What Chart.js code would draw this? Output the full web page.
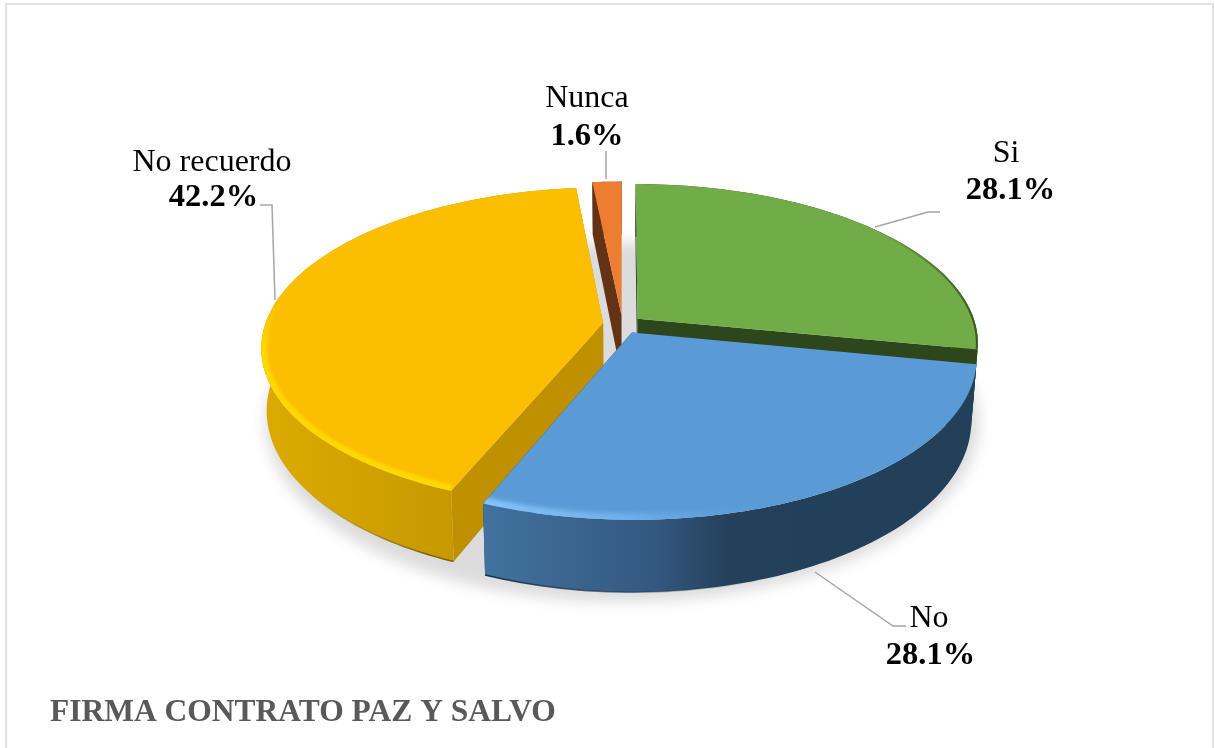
<!DOCTYPE html>
<html lang="es">
<head>
<meta charset="utf-8">
<title>Firma contrato paz y salvo</title>
<script src="https://cdn.jsdelivr.net/npm/chart.js@4"></script>
<style>html,body{margin:0;padding:0;background:#fff}canvas{display:block}</style>
</head>
<body>
<canvas id="c" width="1215" height="748"></canvas>
<script>
const categories = ['Si', 'No', 'No recuerdo', 'Nunca'];
const percentages = [28.1, 28.1, 42.2, 1.6];
const chartTitle = 'FIRMA CONTRATO PAZ Y SALVO';

const topColors = ['#70AD47', '#5B9BD5', '#FBBE00', '#ED7D31'];
const faceColors = ['#2E461C', '#24405A', '#BF9000', '#643215'];
const wallStops = [
  [[0, '#2E461C'], [1, '#2E461C']],
  [[0, '#42729F'], [0.35, '#33587F'], [0.5, '#24405A'], [1, '#22405A']],
  [[0, '#DCAB00'], [0.5, '#CB9C00'], [1, '#BA8D00']],
  [[0, '#643215'], [1, '#643215']]
];
const labelSpots = [
  {x: 1006, y: 162, bx: 1010.5, by: 199},
  {x: 929, y: 627, bx: 930.5, by: 664},
  {x: 212, y: 171, bx: 213.5, by: 206},
  {x: 587, y: 107, bx: 587, by: 145}
];
const leaderPaths = [
  [[875, 227], [928, 212], [940, 212]],
  [[815, 572], [893, 626], [906, 626]],
  [[275, 300], [272, 205], [260, 205]],
  [[606, 151], [606, 179]]
];

// perspective of the pie plane
const X0 = 622.5, Y0 = 324.5, RX = 338, RY = 156.5, K = 0.15, DEPTH = 61, SHRINK = 0.985;
function topPt(u, v) { const w = 1 - K * v; return [X0 + RX * u / w, Y0 + RY * v / w]; }
function botPt(u, v) { const w = 1 - K * v; const p = topPt(u, v); return [X0 + (p[0] - X0) * SHRINK, p[1] + DEPTH / w]; }

function sliceGeom(el) {
  const p = el.getProps(['startAngle', 'endAngle', 'outerRadius'], true);
  const off = (el.options.offset || 0) / p.outerRadius;
  const mid = (p.startAngle + p.endAngle) / 2;
  const cu = off * Math.cos(mid), cv = off * Math.sin(mid);
  const rim = [];
  const steps = Math.max(4, Math.ceil((p.endAngle - p.startAngle) * 40));
  for (let i = 0; i <= steps; i++) {
    const a = p.startAngle + (p.endAngle - p.startAngle) * i / steps;
    rim.push([cu + Math.cos(a), cv + Math.sin(a)]);
  }
  return {cu, cv, rim, off};
}
function poly(ctx, pts, close) {
  ctx.beginPath();
  pts.forEach((q, i) => i ? ctx.lineTo(q[0], q[1]) : ctx.moveTo(q[0], q[1]));
  if (close) ctx.closePath();
}
function hGrad(ctx, x0, x1, stops) {
  const g = ctx.createLinearGradient(x0, 0, x1, 0);
  stops.forEach(s => g.addColorStop(s[0], s[1]));
  return g;
}

const pie3d = {
  id: 'pie3d',
  beforeDraw(chart) {
    const ctx = chart.ctx;
    ctx.save();
    ctx.fillStyle = '#fff';
    ctx.fillRect(0, 0, chart.width, chart.height);
    ctx.strokeStyle = '#E2E2E2';
    ctx.lineWidth = 2;
    ctx.strokeRect(6, 4, 1207, 760);
    ctx.restore();
  },
  beforeDatasetDraw(chart, args) {
    const ctx = chart.ctx;
    const arcs = args.meta.data;
    const geo = arcs.map(sliceGeom);
    ctx.save();
    // soft shadow below the pie
    const off = geo[0].off, disc = [];
    for (let i = 0; i < 180; i++) {
      const a = i / 180 * Math.PI * 2;
      disc.push(botPt((1 + off) * Math.cos(a), (1 + off) * Math.sin(a)));
    }
    ctx.save();
    ctx.filter = 'blur(7px)';
    ctx.fillStyle = '#DCDCDC';
    ctx.translate(0, 8);
    poly(ctx, disc, true);
    ctx.fill();
    ctx.restore();

    // paint back to front: orange, yellow, green, blue
    [3, 2, 0, 1].forEach(i => {
      const g = geo[i];
      const topRim = g.rim.map(q => topPt(q[0], q[1]));
      const botRim = g.rim.map(q => botPt(q[0], q[1]));
      const apexT = topPt(g.cu, g.cv), apexB = botPt(g.cu, g.cv);
      const n = g.rim.length - 1;
      // radial faces
      ctx.fillStyle = faceColors[i];
      poly(ctx, [apexT, topRim[0], botRim[0], apexB], true); ctx.fill();
      poly(ctx, [apexT, topRim[n], botRim[n], apexB], true); ctx.fill();
      // outer wall
      const xs = topRim.map(q => q[0]);
      const minX = Math.min(...xs), maxX = Math.max(...xs);
      ctx.fillStyle = hGrad(ctx, minX, maxX, wallStops[i]);
      poly(ctx, topRim.concat(botRim.slice().reverse()), true); ctx.fill();
      // dark lower edge of the wall
      if (i === 1 || i === 2) {
        ctx.save();
        const e = i === 1 ? ctx.createLinearGradient(490, 0, 780, 0) : ctx.createLinearGradient(310, 0, 430, 0);
        if (i === 1) { e.addColorStop(0, 'rgba(27,48,69,1)'); e.addColorStop(1, 'rgba(27,48,69,0)'); }
        else { e.addColorStop(0, 'rgba(125,95,0,0)'); e.addColorStop(1, 'rgba(125,95,0,1)'); }
        ctx.strokeStyle = e;
        ctx.lineWidth = 1.5;
        ctx.filter = 'blur(0.6px)';
        poly(ctx, botRim, false); ctx.stroke();
        ctx.restore();
      }
      // top surface
      ctx.fillStyle = arcs[i].options.backgroundColor;
      const topPoly = [apexT].concat(topRim);
      poly(ctx, topPoly, true); ctx.fill();
      // bevel along the front rim, kept inside the top surface
      ctx.save();
      poly(ctx, topPoly, true); ctx.clip();
      if (i === 2) {
        const s = ctx.createLinearGradient(0, 300, 0, 350);
        s.addColorStop(0, 'rgba(255,216,0,0)'); s.addColorStop(1, 'rgba(255,216,0,1)');
        ctx.strokeStyle = s; ctx.lineWidth = 12; ctx.filter = 'blur(1.5px)';
        poly(ctx, topRim, false); ctx.stroke();
      } else if (i === 1) {
        const s = ctx.createLinearGradient(484, 0, 780, 0);
        s.addColorStop(0, 'rgba(135,195,250,1)'); s.addColorStop(0.5, 'rgba(115,180,240,0.8)'); s.addColorStop(1, 'rgba(91,155,213,0)');
        ctx.strokeStyle = s; ctx.lineWidth = 13; ctx.filter = 'blur(2px)';
        poly(ctx, topRim, false); ctx.stroke();
      } else if (i === 0) {
        const s = ctx.createLinearGradient(880, 0, 975, 0);
        s.addColorStop(0, 'rgba(60,90,40,0)'); s.addColorStop(1, 'rgba(60,90,40,1)');
        ctx.strokeStyle = s; ctx.lineWidth = 4;
        poly(ctx, topRim, false); ctx.stroke();
      }
      ctx.restore();
    });
    ctx.restore();
    return false;
  },
  afterDatasetsDraw(chart) {
    const ctx = chart.ctx;
    ctx.save();
    ctx.strokeStyle = '#A6A6A6';
    ctx.lineWidth = 1.5;
    leaderPaths.forEach(p => { poly(ctx, p, false); ctx.stroke(); });
    ctx.textAlign = 'center';
    ctx.textBaseline = 'alphabetic';
    ctx.fillStyle = '#000';
    categories.forEach((c, i) => {
      const s = labelSpots[i];
      ctx.font = '32px "Liberation Serif"';
      ctx.fillText(c, s.x, s.y);
      ctx.font = 'bold 32.5px "Liberation Serif"';
      ctx.fillText(percentages[i].toFixed(1) + '%', s.bx, s.by);
    });
    ctx.restore();
  }
};

new Chart(document.getElementById('c'), {
  type: 'pie',
  data: {
    labels: categories,
    datasets: [{
      data: percentages,
      backgroundColor: topColors,
      borderWidth: 0,
      offset: 17.4
    }]
  },
  options: {
    responsive: false,
    animation: false,
    radius: 300,
    layout: {padding: {left: 50}},
    plugins: {
      legend: {display: false},
      tooltip: {enabled: false},
      title: {
        display: true,
        text: chartTitle,
        position: 'bottom',
        align: 'start',
        color: '#595959',
        font: {family: '"Liberation Serif"', size: 31.5, weight: 'bold'},
        padding: {top: 0, bottom: 16}
      }
    }
  },
  plugins: [pie3d]
});
</script>
</body>
</html>
